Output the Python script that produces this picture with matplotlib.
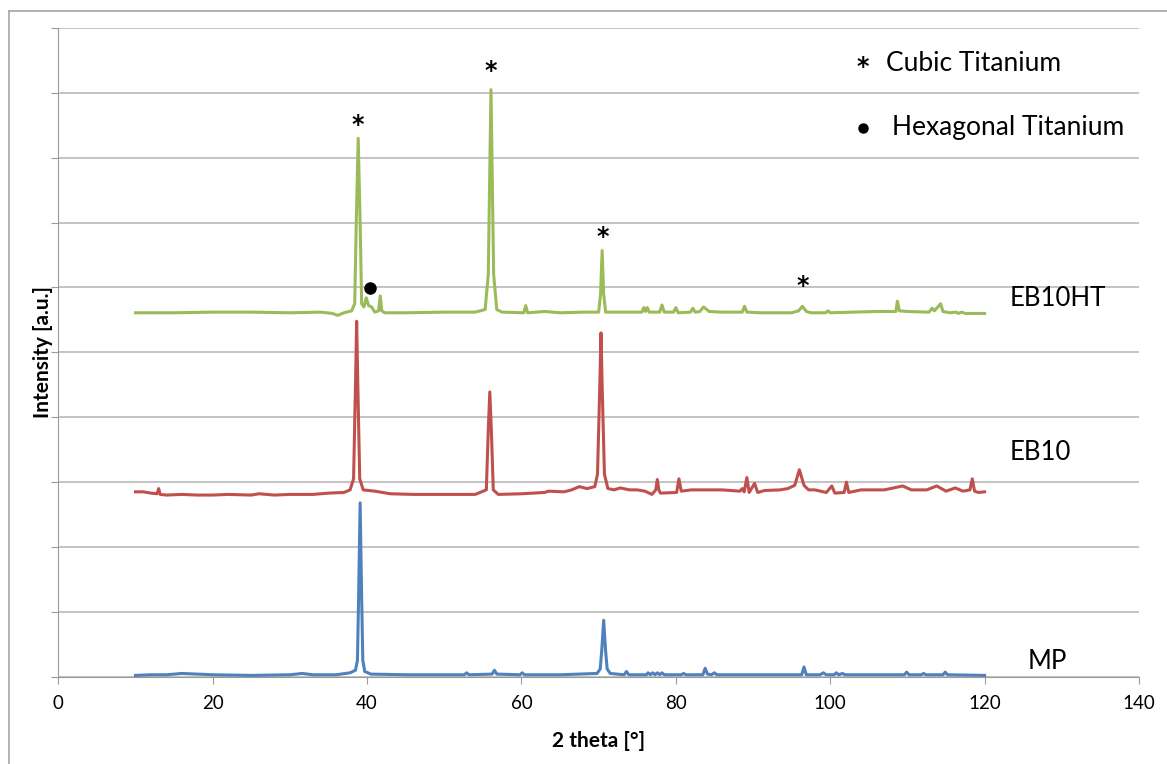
import matplotlib.pyplot as plt
from matplotlib.lines import Line2D

# MP (blue), lowest trace
mp_x = [10, 12, 14, 16, 18, 20, 25, 30, 31.6, 33, 36, 37.8, 38.5, 38.75, 38.9, 39.1, 39.3, 39.45, 39.7, 40.5,
        45, 52.6, 52.9, 53.2, 56.2, 56.5, 56.8, 59.8, 60.1, 60.4, 65, 69.8, 70.2, 70.4, 70.65, 70.9, 71.1, 71.5,
        73.3, 73.6, 73.9, 76.2, 76.4, 76.7, 77.0, 77.3, 77.6, 77.9, 78.2, 78.5, 80.7, 81.0, 81.3,
        83.5, 83.8, 84.1, 84.6, 85.0, 85.3, 90, 96.3, 96.6, 96.9, 98.7, 99.1, 99.5, 100.5, 100.8,
        101.1, 101.6, 101.9, 105, 109.6, 109.9, 110.2, 111.8, 112.1, 112.4, 114.6, 114.9, 115.2, 120]
mp_y = [0.02, 0.03, 0.03, 0.05, 0.04, 0.03, 0.02, 0.03, 0.05, 0.03, 0.03, 0.06, 0.10, 0.25, 1.2, 2.68, 1.2, 0.25, 0.08, 0.04,
        0.03, 0.03, 0.06, 0.03, 0.04, 0.10, 0.04, 0.03, 0.06, 0.03, 0.03, 0.05, 0.12, 0.4, 0.87, 0.4, 0.12, 0.05,
        0.03, 0.08, 0.03, 0.03, 0.06, 0.03, 0.06, 0.03, 0.06, 0.03, 0.06, 0.03, 0.03, 0.05, 0.03,
        0.03, 0.13, 0.04, 0.03, 0.06, 0.03, 0.03, 0.03, 0.15, 0.03, 0.03, 0.06, 0.03, 0.03, 0.06,
        0.03, 0.05, 0.03, 0.03, 0.03, 0.07, 0.03, 0.03, 0.05, 0.03, 0.03, 0.07, 0.03, 0.02]

# EB10 (red), middle trace
eb10_x = [10, 11, 12, 12.8, 13.0, 13.2, 14, 16, 18, 20, 22, 25, 26, 28, 30, 33, 35, 37, 37.8, 38.25,
          38.5, 38.65, 38.8, 39.05, 39.5, 41, 43, 46, 50, 54, 55.45, 55.7, 55.9, 56.1, 56.35, 57, 60,
          63, 63.5, 65.5, 66.5, 67.5, 68.5, 69.5, 69.85, 70.15, 70.3, 70.45, 70.75, 71.2, 72, 72.8, 74,
          75, 76, 76.9, 77.4, 77.6, 77.8, 78, 80.1, 80.4, 80.7, 82, 86, 88.3, 88.6, 88.85, 89.2, 89.5,
          90.2, 90.6, 91.5, 93.5, 94.5, 95.4, 96.0, 96.6, 97.2, 98, 99.5, 100.2, 100.6, 101.8, 102.1,
          102.4, 104, 107, 109.4, 110.5, 112.5, 113.8, 115, 116.2, 117.2, 118.1, 118.4, 118.7, 119.2, 120]
eb10_y = [2.85, 2.85, 2.83, 2.82, 2.90, 2.81, 2.80, 2.81, 2.80, 2.80, 2.81, 2.80, 2.82, 2.80, 2.81, 2.81, 2.83, 2.84, 2.88, 3.05,
          4.5, 5.48, 4.5, 3.05, 2.88, 2.86, 2.82, 2.81, 2.81, 2.81, 2.88, 3.8, 4.39, 3.8, 2.88, 2.81, 2.82,
          2.84, 2.86, 2.85, 2.88, 2.93, 2.90, 2.93, 3.12, 4.5, 5.30, 4.5, 3.12, 2.90, 2.88, 2.91, 2.88,
          2.88, 2.86, 2.81, 2.88, 3.04, 2.88, 2.83, 2.84, 3.05, 2.86, 2.88, 2.88, 2.86, 2.90, 2.85, 3.07, 2.84,
          2.98, 2.84, 2.87, 2.88, 2.90, 2.95, 3.19, 2.95, 2.88, 2.88, 2.84, 2.94, 2.83, 2.84, 3.00,
          2.84, 2.88, 2.88, 2.94, 2.88, 2.88, 2.94, 2.86, 2.91, 2.86, 2.88, 3.05, 2.86, 2.84, 2.85]

# EB10HT (green), top trace
eb10ht_x = [10, 15, 20, 25, 30, 34, 35.5, 36.2, 37, 38, 38.4, 38.6, 38.85, 39.1, 39.3, 39.6, 39.9, 40.2,
            40.6, 41.0, 41.5, 41.7, 41.9, 42.3, 45, 50, 54, 55.3, 55.7, 56.05, 56.4, 56.8, 57.5, 60.3,
            60.55, 60.8, 62, 63, 65, 68, 70, 70.25, 70.45, 70.65, 70.9, 72, 75.6, 75.85, 76.05, 76.3,
            76.55, 77.9, 78.2, 78.5, 79.7, 80.0, 80.3, 81.9, 82.2, 82.5, 83.1, 83.6, 84.3, 86, 88.6,
            88.9, 89.2, 91, 95, 95.9, 96.4, 96.9, 97.5, 99.4, 99.7, 100.0, 103, 106, 108.5, 108.7,
            108.95, 110, 112.8, 113.2, 113.5, 114.3, 114.6, 115.5, 116.3, 116.6, 117, 117.5, 120]
eb10ht_y = [5.61, 5.61, 5.62, 5.62, 5.61, 5.62, 5.60, 5.57, 5.61, 5.64, 5.75, 7.0, 8.30, 7.0, 5.75, 5.70, 5.84, 5.72,
            5.70, 5.62, 5.64, 5.87, 5.64, 5.61, 5.61, 5.62, 5.62, 5.66, 6.2, 9.05, 6.2, 5.66, 5.62, 5.61,
            5.72, 5.61, 5.62, 5.63, 5.61, 5.62, 5.62, 5.9, 6.57, 5.9, 5.62, 5.62, 5.62, 5.69, 5.63, 5.69,
            5.62, 5.62, 5.73, 5.62, 5.62, 5.69, 5.61, 5.62, 5.68, 5.62, 5.63, 5.70, 5.63, 5.62, 5.62,
            5.71, 5.62, 5.61, 5.61, 5.64, 5.71, 5.63, 5.61, 5.61, 5.64, 5.61, 5.62, 5.63, 5.63, 5.79,
            5.64, 5.63, 5.62, 5.68, 5.64, 5.75, 5.63, 5.61, 5.62, 5.60, 5.62, 5.60, 5.60]

# phase markers: asterisk = cubic, dot = hexagonal
cubic_x = [38.8, 56.0, 70.5, 96.5]
cubic_y = [8.50, 9.34, 6.78, 6.02]
hex_x = [40.4]
hex_y = [5.99]

labels = ["EB10HT", "EB10", "MP"]
label_x = [123.2, 123.3, 125.6]
label_y = [5.83, 3.46, 0.24]

plt.rcParams['font.family'] = ['Lato', 'DejaVu Sans']

fig = plt.figure(figsize=(11.67, 7.64), dpi=100)
ax = fig.add_axes([58.3 / 1167, 1 - 676.7 / 764, (1139 - 58.3) / 1167, (676.7 - 28) / 764])

grid_c = '#b3b3b3'
ax.plot(eb10ht_x, eb10ht_y, color='#9bbb59', lw=2.2, solid_joinstyle='round')
ax.plot(eb10_x, eb10_y, color='#c0504d', lw=2.2, solid_joinstyle='round')
ax.plot(mp_x, mp_y, color='#4f81bd', lw=2.2, solid_joinstyle='round')

for x, y in zip(cubic_x, cubic_y):
    ax.text(x, y, '*', ha='center', va='center', fontsize=17, fontweight='bold', family='DejaVu Sans')
ax.plot(hex_x, hex_y, 'o', color='black', ms=8)

for t, x, y in zip(labels, label_x, label_y):
    ax.text(x, y, t, ha='left', va='center', fontsize=18.5)

# legend made of plain text like the original
ax.text(104.2, 9.40, '*', ha='center', va='center', fontsize=17, fontweight='bold', family='DejaVu Sans')
ax.text(107.2, 9.45, 'Cubic Titanium', ha='left', va='center', fontsize=19)
ax.plot([104.2], [8.46], 'o', color='black', ms=6.5)
ax.text(108.0, 8.46, 'Hexagonal Titanium', ha='left', va='center', fontsize=19)

ax.set_xlim(0, 140)
ax.set_ylim(0, 10)
ax.set_xticks(range(0, 141, 20))
ax.set_yticks(range(0, 11))
ax.set_yticklabels([])
ax.grid(axis='y', color=grid_c, lw=1.1)
ax.set_axisbelow(True)
for s in ['top', 'right']:
    ax.spines[s].set_visible(False)
for s in ['left', 'bottom']:
    ax.spines[s].set_color('#9a9a9a')
ax.tick_params(axis='both', direction='out', length=5, color='#9a9a9a', labelsize=13.5)
ax.tick_params(axis='x', pad=8)

ax.set_xlabel('2 theta [°]', fontsize=15, fontweight='bold', labelpad=14)
ax.set_ylabel('Intensity [a.u.]', fontsize=15, fontweight='bold')
ax.yaxis.set_label_coords(-0.005, 0.5)

# outer chart border (cropped at right and bottom)
fig.add_artist(Line2D([9 / 1167, 9 / 1167], [0, 1 - 11 / 764], color='#a6a6a6', lw=1.2))
fig.add_artist(Line2D([9 / 1167, 1], [1 - 11 / 764, 1 - 11 / 764], color='#a6a6a6', lw=1.2))

fig.savefig('out.png', dpi=100)
